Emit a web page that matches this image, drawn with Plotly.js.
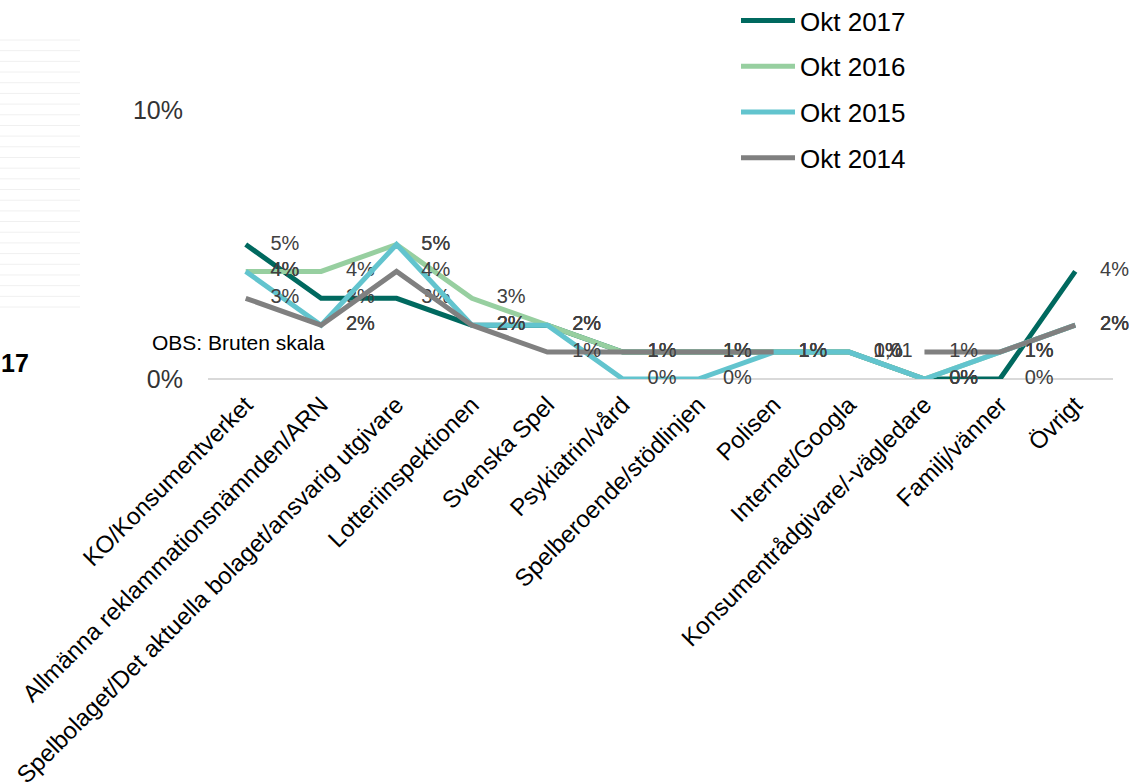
<!DOCTYPE html>
<html>
<head>
<meta charset="utf-8">
<script src="https://cdn.plot.ly/plotly-3.0.1.min.js"></script>
<style>
  html, body { margin: 0; padding: 0; background: #fff; }
  #chart { width: 1130px; height: 784px; }
</style>
</head>
<body>
<div id="chart"></div>
<script>
// ---- Data ----
const categories = [
  "KO/Konsumentverket",
  "Allmänna reklammationsnämnden/ARN",
  "Spelbolaget/Det aktuella bolaget/ansvarig utgivare",
  "Lotteriinspektionen",
  "Svenska Spel",
  "Psykiatrin/vård",
  "Spelberoende/stödlinjen",
  "Polisen",
  "Internet/Googla",
  "Konsumentrådgivare/-vägledare",
  "Familj/vänner",
  "Övrigt"
];
const seriesNames = ["Okt 2017", "Okt 2016", "Okt 2015", "Okt 2014"];
const okt2017 = [0.05, 0.03, 0.03, 0.02, 0.02, 0.01, 0.01, 0.01, 0.01, 0.00, 0.00, 0.04];
const okt2016 = [0.04, 0.04, 0.05, 0.03, 0.02, 0.01, 0.01, 0.01, 0.01, 0.00, 0.01, 0.02];
const okt2015 = [0.04, 0.02, 0.05, 0.02, 0.02, 0.00, 0.00, 0.01, 0.01, 0.00, 0.01, 0.02];
const okt2014 = [0.03, 0.02, 0.04, 0.02, 0.01, 0.01, 0.01, 0.01, null, 0.01, 0.01, 0.02];
// label shown for the gap in Okt 2014 (Internet/Googla)
const okt2014GapCategory = "Internet/Googla";
const okt2014GapValue = 0.01;
const okt2014GapLabel = "0,01";
const yTickVals = [0, 0.10];
const yTickText = ["0%", "10%"];

// ---- Style ----
const FONT = "Liberation Sans, Arial, Helvetica, sans-serif";
const colors = ["#00695F", "#97CFA0", "#62C4CE", "#808080"];
const W = 1130, H = 784;
const M = { l: 208, r: 17, t: 110, b: 405, autoexpand: false };
const PW = W - M.l - M.r, PH = H - M.t - M.b;
const px = x => (x - M.l) / PW;
const py = y => (H - M.b - y) / PH;

const pct = v => (v === null ? "" : Math.round(v * 100) + "%");
const allSeries = [okt2017, okt2016, okt2015, okt2014];
const hiddenMarker = { size: 38, opacity: 0, color: "rgba(0,0,0,0)", line: { width: 0 } };

const traces = allSeries.map((vals, i) => ({
  type: "scatter",
  mode: "lines+markers+text",
  name: seriesNames[i],
  legendgroup: "g" + i,
  x: categories,
  y: vals,
  text: vals.map(pct),
  textposition: "middle right",
  textfont: { family: FONT, size: 20, color: "#404040" },
  cliponaxis: false,
  connectgaps: false,
  line: { color: colors[i], width: 5 },
  marker: hiddenMarker,
  hoverinfo: "skip"
}));

traces.push({
  type: "scatter",
  mode: "markers+text",
  x: [okt2014GapCategory],
  y: [okt2014GapValue],
  text: [okt2014GapLabel],
  textposition: "middle right",
  textfont: { family: FONT, size: 20, color: "#404040" },
  marker: hiddenMarker,
  cliponaxis: false,
  showlegend: false,
  hoverinfo: "skip"
});

// faint stripes on the left (cropped slide residue)
const shapes = [];
for (let k = 0; k < 26; k++) {
  const yy = 40 + k * 10.68;
  shapes.push({
    type: "line", xref: "paper", yref: "paper",
    x0: px(0), x1: px(80), y0: py(yy), y1: py(yy),
    line: { color: "#F0F0F0", width: 1 }
  });
}

const layout = {
  width: W, height: H,
  margin: M,
  paper_bgcolor: "#fff",
  plot_bgcolor: "rgba(0,0,0,0)",
  font: { family: FONT, color: "#000" },
  showlegend: true,
  legend: {
    x: px(736), y: py(-3), xanchor: "left", yanchor: "top",
    font: { family: FONT, size: 26, color: "#000" },
    bgcolor: "rgba(0,0,0,0)",
    tracegroupgap: 9,
    itemwidth: 54,
    traceorder: "grouped"
  },
  xaxis: {
    type: "category",
    range: [-0.5, categories.length - 0.5],
    showgrid: false, showline: false, zeroline: false,
    ticks: "", tickangle: -45, ticklabelstandoff: 6,
    tickfont: { family: FONT, size: 24, color: "#000" },
    fixedrange: true
  },
  yaxis: {
    range: [0, 0.10],
    tickvals: yTickVals, ticktext: yTickText,
    showgrid: false, showline: false,
    zeroline: true, zerolinecolor: "#D9D9D9", zerolinewidth: 1.5,
    ticks: "", ticklabelstandoff: 24,
    tickfont: { family: FONT, size: 25, color: "#333" },
    fixedrange: true
  },
  shapes: shapes,
  annotations: [
    {
      xref: "paper", yref: "paper", x: px(150), y: py(342),
      xanchor: "left", yanchor: "middle", showarrow: false,
      text: "OBS: Bruten skala",
      font: { family: FONT, size: 21, color: "#000" }
    },
    {
      xref: "paper", yref: "paper", x: px(-1), y: py(363),
      xanchor: "left", yanchor: "middle", showarrow: false,
      text: "<b>17</b>",
      font: { family: FONT, size: 25, color: "#000" }
    }
  ]
};

Plotly.newPlot("chart", traces, layout, { displayModeBar: false, staticPlot: true });
</script>
</body>
</html>
